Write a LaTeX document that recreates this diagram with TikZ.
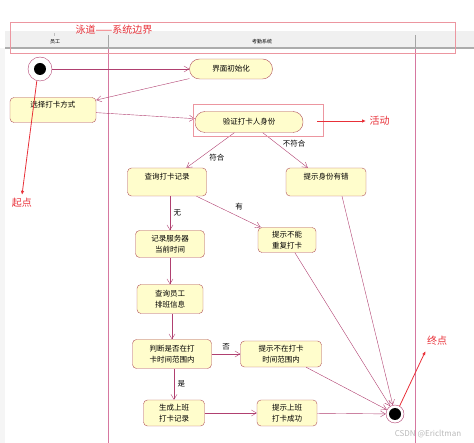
\documentclass[tikz,border=0pt]{standalone}
\usepackage{fontspec}
\setmainfont{Noto Sans CJK SC}
\usetikzlibrary{arrows.meta}
\definecolor{lanepink}{RGB}{214,120,160}
\definecolor{flowred}{RGB}{176,64,112}
\definecolor{boxedge}{RGB}{176,80,90}
\definecolor{boxfill}{RGB}{255,253,204}
\definecolor{notered}{RGB}{232,48,56}
\definecolor{notebox}{RGB}{236,150,160}

\begin{document}
\begin{tikzpicture}[x=1pt,y=-1pt,
	act/.style={shape=rectangle,rounded corners=4pt,draw=boxedge,fill=boxfill,inner sep=1pt,align=center,font=\fontsize{7.5pt}{11.5pt}\selectfont},
	topline/.style={text depth=12pt},
	stadium/.style={act,rounded corners=10pt},
	flow/.style={draw=flowred,-{Straight Barb[length=5pt,width=6pt]}},
	guard/.style={font=\fontsize{7.5pt}{9pt}\selectfont},
	note/.style={text=notered,font=\fontsize{10pt}{12pt}\selectfont},
	notearrow/.style={draw=notered,thick,-{Latex[length=4pt,width=3.5pt]}},
	lane/.style={draw=lanepink,line width=0.8pt},
	ring/.style={shape=circle,draw=flowred,fill=white,inner sep=0pt}]
	\useasboundingbox (0,0) rectangle (474,443);

	% swimlane header
	\fill[gray!12] (5,31) rectangle (474,48);
	\fill[gray!8] (0,48) rectangle (5,443);
	\draw[gray!65,line width=1.5pt] (5,48) -- (474,48);
	\draw[gray!70,line width=1pt] (108,35) -- (108,48);
	\draw[gray!70,line width=1pt] (415,35) -- (415,48);
	\draw[gray!50,line width=0.4pt] (54,33) -- (54,36);
	\draw[lane] (108,49) -- (108,443);
	\draw[lane] (415,49) -- (415,443);
	\node[font=\fontsize{5pt}{6pt}\selectfont] (staff) at (55,42) {员工};
	\node[font=\fontsize{5pt}{6pt}\selectfont] (system) at (262,42) {考勤系统};

	% start and end
	\node[ring,minimum size=24pt,path picture={\fill[black] (path picture bounding box.center) circle (6pt);}] (start) at (40,69) {};
	\node[ring,minimum size=18pt,path picture={\fill[black] (path picture bounding box.center) circle (6pt);}] (final) at (395,414) {};

	% activities
	\node[stadium,minimum width=83pt,minimum height=20pt] (init) at (231,69) {界面初始化};
	\node[act,topline,minimum width=86pt,minimum height=25pt] (choose) at (53,110) {选择打卡方式};
	\node[stadium,minimum width=108pt,minimum height=21pt] (verify) at (249,122) {验证打卡人身份};
	\node[act,topline,minimum width=79pt,minimum height=28pt] (query) at (167,182) {查询打卡记录};
	\node[act,topline,minimum width=80pt,minimum height=28pt] (iderr) at (326,182) {提示身份有错};
	\node[act,minimum width=69pt,minimum height=27pt] (record) at (170,244) {记录服务器\\当前时间};
	\node[act,minimum width=58pt,minimum height=25pt] (norep) at (287,240) {提示不能\\重复打卡};
	\node[act,minimum width=66pt,minimum height=29pt] (sched) at (170,299) {查询员工\\排班信息};
	\node[act,minimum width=79pt,minimum height=29pt] (judge) at (172,354) {判断是否在打\\卡时间范围内};
	\node[act,minimum width=81pt,minimum height=26pt] (notin) at (281,354) {提示不在打卡\\时间范围内};
	\node[act,minimum width=61pt,minimum height=26pt] (gen) at (174,413) {生成上班\\打卡记录};
	\node[act,minimum width=60pt,minimum height=26pt] (succ) at (287,413) {提示上班\\打卡成功};

	% flows
	\draw[flow] (start) -- (init);
	\draw[flow] (init) -- (choose);
	\draw[flow] (choose) -- (verify);
	\draw[flow] (verify) -- node[guard,pos=0.7,right=5pt]{符合} (query);
	\draw[flow] (verify) -- node[guard,pos=0.3,right=3pt]{不符合} (iderr);
	\draw[flow] (query.south -| record.north) -- node[guard,right]{无} (record.north);
	\draw[flow] (query) -- node[guard,pos=0.55,above right]{有} (norep);
	\draw[flow] (record) -- (sched);
	\draw[flow] (sched.south -| judge.north) -- (judge.north);
	\draw[flow] (judge) -- node[guard,above]{否} (notin);
	\draw[flow] (judge.south -| gen.north) -- node[guard,right]{是} (gen.north);
	\draw[flow] (gen) -- (succ);
	\draw[flow] (succ) -- (final);
	\draw[flow] (notin) -- (final);
	\draw[flow] (norep) -- (final);
	\draw[flow] ([xshift=16pt]iderr.south) -- (final);

	% notes
	\draw[notebox] (10,22) rectangle (455,53);
	\node[note,anchor=west] (lanenote) at (72,30) {泳道——系统边界};
	\draw[notebox] (193,104) rectangle (323,136);
	\coordinate (acttail) at (317,121);
	\node[note,anchor=west] (actnote) at (366,121) {活动};
	\draw[notearrow] (acttail) -- (actnote.west);
	\node[note] (startnote) at (22,203) {起点};
	\draw[notearrow] (start.255) -- (startnote.north);
	\node[note] (endnote) at (437,341) {终点};
	\draw[notearrow] (final.60) -- ([xshift=2pt,yshift=-2pt]endnote.south west);

	\node[text=gray!55,font=\fontsize{8pt}{9pt}\selectfont] (mark) at (428,434) {CSDN @Ericltman};
\end{tikzpicture}
\end{document}
